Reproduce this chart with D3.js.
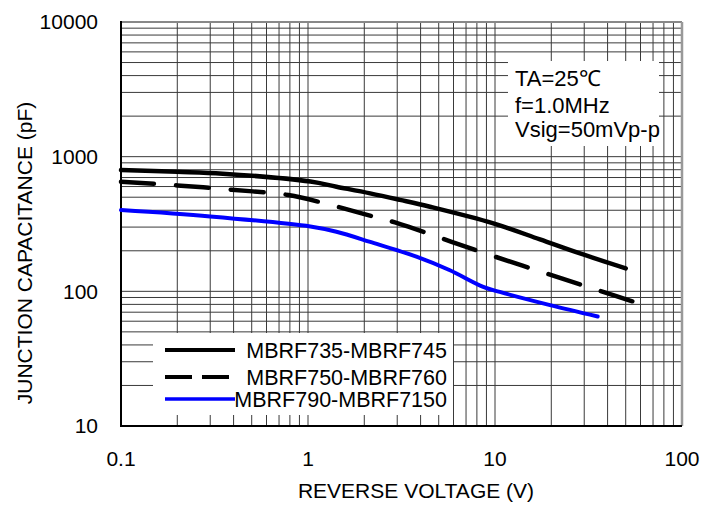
<!DOCTYPE html>
<html lang="en">
<head>
    <meta charset="UTF-8">
    <script src="https://d3js.org/d3.v7.min.js"></script>
    <style>
        body { margin: 0; background: #fff; font-family: Arial, "Liberation Sans", sans-serif; }
        text { font-family: Arial, "Liberation Sans", sans-serif; fill: #000; }
        .tick-label { font-size: 21px; }
        .axis-title { font-size: 21px; }
        .legend-text { font-size: 21.5px; }
        .note { font-size: 22px; }
    </style>
</head>
<body>
    <svg id="chart"></svg>

    <script>
        // Truc va nhan
        const xTicks = [0.1, 1, 10, 100];
        const yTicks = [10, 100, 1000, 10000];
        const xTickLabels = ["0.1", "1", "10", "100"];
        const yTickLabels = ["10", "100", "1000", "10000"];

        // Du lieu doc tu hinh (V, pF)
        const seriesNames = ["MBRF735-MBRF745", "MBRF750-MBRF760", "MBRF790-MBRF7150"];
        const v735 = [0.1, 0.2, 0.35, 1.03, 1.42, 2.15, 3.1, 4.49, 9.8, 17.4, 28.5, 50];
        const c735 = [795, 772, 748, 653, 598, 534, 478, 425, 320, 243, 191, 148];
        const v750 = [0.1, 0.2, 0.39, 0.785, 1.23, 1.55, 2.43, 3.03, 4.49, 5.86, 9.1, 17.6, 34, 61];
        const c750 = [651, 612, 568, 519, 450, 413, 348, 320, 266, 233, 189, 140, 104, 80];
        const v790 = [0.1, 0.3, 1.03, 1.42, 2.15, 3.8, 5.7, 8.65, 10.6, 19.7, 35.4];
        const c790 = [401, 360, 303, 277, 233, 181, 144, 108, 99, 79, 65];

        const notes = ["TA=25\u2103", "f=1.0MHz", "Vsig=50mVp-p"];

        const width = 705, height = 510;
        const plot = { left: 121, right: 682, top: 22, bottom: 426 };

        const svg = d3.select("#chart")
            .attr("width", width)
            .attr("height", height);

        svg.append("rect").attr("width", width).attr("height", height).attr("fill", "#fff");

        const x = d3.scaleLog().domain([0.1, 100]).range([plot.left, plot.right]);
        const y = d3.scaleLog().domain([10, 10000]).range([plot.bottom, plot.top]);

        // Luoi (1..9 moi decade)
        const xGrid = [], yGrid = [];
        [0.1, 1, 10].forEach(d => { for (let k = 1; k <= 9; k++) xGrid.push(d * k); });
        [10, 100, 1000].forEach(d => { for (let k = 1; k <= 9; k++) yGrid.push(d * k); });

        const grid = svg.append("g").attr("stroke", "#3a3a3a").attr("stroke-width", 1);
        grid.selectAll(".vg").data(xGrid.slice(1)).enter().append("line")
            .attr("x1", d => x(d)).attr("x2", d => x(d))
            .attr("y1", plot.top).attr("y2", plot.bottom);
        grid.selectAll(".hg").data(yGrid.slice(1)).enter().append("line")
            .attr("y1", d => y(d)).attr("y2", d => y(d))
            .attr("x1", plot.left).attr("x2", plot.right);

        // O trang cho ghi chu va chu giai
        svg.append("rect").attr("x", 508).attr("y", 61).attr("width", 151).attr("height", 85).attr("fill", "#fff");
        svg.append("rect").attr("x", 153).attr("y", 333).attr("width", 300).attr("height", 82).attr("fill", "#fff");

        // Khung
        svg.append("line").attr("x1", plot.left).attr("x2", plot.right).attr("y1", plot.top).attr("y2", plot.top)
            .attr("stroke", "#888").attr("stroke-width", 2);
        svg.append("line").attr("x1", plot.right).attr("x2", plot.right).attr("y1", plot.top).attr("y2", plot.bottom)
            .attr("stroke", "#999").attr("stroke-width", 2.5);
        svg.append("line").attr("x1", plot.left).attr("x2", plot.left).attr("y1", plot.top - 1).attr("y2", plot.bottom + 1)
            .attr("stroke", "#000").attr("stroke-width", 2);
        svg.append("line").attr("x1", plot.left).attr("x2", plot.right).attr("y1", plot.bottom).attr("y2", plot.bottom)
            .attr("stroke", "#000").attr("stroke-width", 2);

        // Nhan truc
        svg.selectAll(".xl").data(xTicks).enter().append("text")
            .attr("class", "tick-label")
            .attr("x", d => x(d)).attr("y", 466)
            .attr("text-anchor", "middle")
            .text((d, i) => xTickLabels[i]);
        svg.selectAll(".yl").data(yTicks).enter().append("text")
            .attr("class", "tick-label")
            .attr("x", 98).attr("y", d => y(d))
            .attr("dy", "0.35em")
            .attr("text-anchor", "end")
            .text((d, i) => yTickLabels[i]);

        svg.append("text").attr("class", "axis-title")
            .attr("x", 416).attr("y", 498).attr("text-anchor", "middle")
            .text("REVERSE VOLTAGE (V)");
        svg.append("text").attr("class", "axis-title")
            .attr("transform", "translate(32,253) rotate(-90)")
            .attr("text-anchor", "middle")
            .text("JUNCTION CAPACITANCE (pF)");

        // Duong cong
        const line = d3.line()
            .x(d => x(d[0])).y(d => y(d[1]))
            .curve(d3.curveCatmullRom.alpha(0.5));

        const series = [
            { v: v735, c: c735, color: "#000", w: 4.5, dash: null },
            { v: v750, c: c750, color: "#000", w: 4.5, dash: "33,22" },
            { v: v790, c: c790, color: "#0000ff", w: 4, dash: null }
        ];

        series.forEach(s => {
            svg.append("path")
                .datum(s.v.map((v, i) => [v, s.c[i]]))
                .attr("d", line)
                .attr("fill", "none")
                .attr("stroke", s.color)
                .attr("stroke-width", s.w)
                .attr("stroke-linecap", "round")
                .attr("stroke-linejoin", "round")
                .attr("stroke-dasharray", s.dash);
        });

        // Chu giai
        const legY = [350, 377, 399];
        const legendLines = [
            { color: "#000", w: 4, dash: null },
            { color: "#000", w: 4, dash: "27,10" },
            { color: "#0000ff", w: 3.5, dash: null }
        ];
        legendLines.forEach((l, i) => {
            svg.append("line")
                .attr("x1", 165).attr("x2", 235)
                .attr("y1", legY[i]).attr("y2", legY[i])
                .attr("stroke", l.color).attr("stroke-width", l.w)
                .attr("stroke-dasharray", l.dash);
        });
        svg.selectAll(".lt").data(seriesNames).enter().append("text")
            .attr("class", "legend-text")
            .attr("x", 447)
            .attr("y", (d, i) => legY[i] + 8)
            .attr("text-anchor", "end")
            .text(d => d);

        // Ghi chu dieu kien do
        svg.selectAll(".nt").data(notes).enter().append("text")
            .attr("class", "note")
            .attr("x", 515)
            .attr("y", (d, i) => [86, 113, 137][i])
            .text(d => d);
    </script>
</body>
</html>
